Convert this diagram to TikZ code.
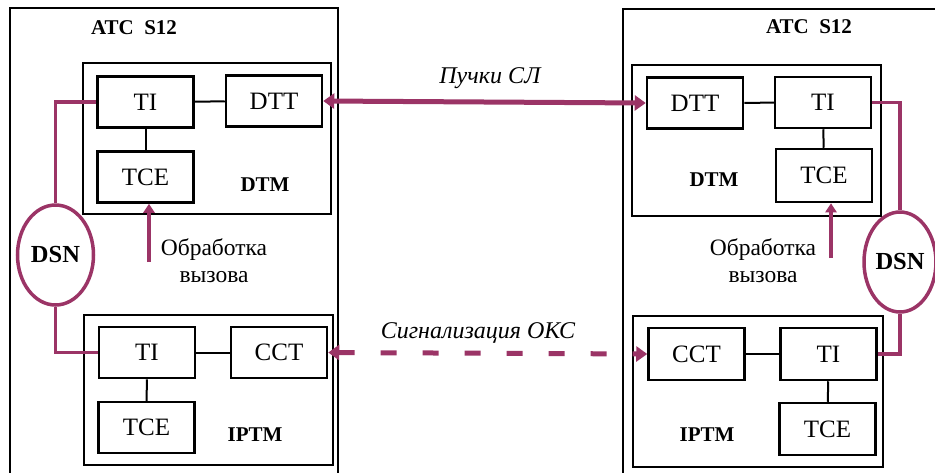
\documentclass[tikz,border=0pt]{standalone}
\usepackage{fontspec}
\setmainfont{Liberation Serif}
\usetikzlibrary{arrows.meta,shapes.geometric}
\definecolor{plum}{RGB}{155,52,102}
\tikzset{
  unit/.style={draw=black,line width=2.5pt,minimum width=96pt,minimum height=51pt,inner sep=0pt,
    font=\fontsize{25}{27}\selectfont},
  module/.style={draw=black,line width=2.5pt,inner sep=0pt},
  outer/.style={draw=black,line width=2pt},
  link/.style={draw=black,line width=2pt},
  purp/.style={draw=plum,line width=3.5pt},
  dsn/.style={ellipse,draw=plum,line width=3.5pt,inner sep=0pt,font=\bfseries\fontsize{24.5}{26}\selectfont},
  boldlbl/.style={font=\bfseries\fontsize{21}{23}\selectfont},
  note/.style={font=\fontsize{23.5}{27}\selectfont,align=center},
  itnote/.style={font=\itshape\fontsize{24}{26}\selectfont},
  bigarrow/.style={draw=plum,line width=5pt,{Triangle[length=11pt,width=15pt]}-{Triangle[length=11pt,width=15pt]}},
  uparrow/.style={draw=plum,line width=3.5pt,-{Triangle[length=9pt,width=11pt]}}
}
\begin{document}
\begin{tikzpicture}[x=1pt,y=-1pt]
\useasboundingbox (0,0) rectangle (935,472);
% outer exchange frames
\draw[outer] (10,474) -- (10,8) -- (338,8) -- (338,474);
\draw[outer] (623,474) -- (623,9) -- (937,9);
\node[boldlbl] (atc1) at (134,28) {ATC\ \ S12};
\node[boldlbl] (atc2) at (809,27) {ATC\ \ S12};
% left DTM
\node[module,minimum width=248pt,minimum height=151pt] (dtm1) at (207,138.5) {};
\node[unit] (ti1) at (145.5,102) {TI};
\node[unit] (dtt1) at (274,101) {DTT};
\node[unit] (tce1) at (145.5,177) {TCE};
\node[boldlbl] (dtml1) at (265,185) {DTM};
\draw[link] (ti1) -- (dtt1);
\draw[link] (ti1) -- (tce1);
% left IPTM
\node[module,minimum width=249pt,minimum height=150pt] (iptm1) at (208.5,390) {};
\node[unit] (ti2) at (147,352.5) {TI};
\node[unit] (cct1) at (279,352.5) {CCT};
\node[unit] (tce2) at (146.5,427.5) {TCE};
\node[boldlbl] (iptml1) at (255,435) {IPTM};
\draw[link] (ti2) -- (cct1);
\draw[link] (ti2) -- (tce2);
% left DSN
\node[dsn,minimum width=76pt,minimum height=100pt] (dsn1) at (55.5,255) {DSN};
\draw[purp] (ti1.west) -| (dsn1.north);
\draw[purp] (dsn1.south) |- (ti2.west);
% left call processing
\coordinate (a1) at (149,262);
\draw[uparrow] (a1) -- (a1 |- tce1.south);
\node[note] (cp1) at (214,261) {Обработка\\вызова};
% right DTM
\node[module,minimum width=249pt,minimum height=151pt] (dtm2) at (756.5,140.5) {};
\node[unit] (dtt2) at (695,103) {DTT};
\node[unit] (ti3) at (823,102.5) {TI};
\node[unit,minimum height=53pt] (tce3) at (824,175.5) {TCE};
\node[boldlbl] (dtml2) at (714,180) {DTM};
\draw[link] (dtt2) -- (ti3);
\draw[link] (ti3) -- (tce3);
% right IPTM
\node[module,minimum width=250pt,minimum height=151pt] (iptm2) at (758,391.5) {};
\node[unit,minimum height=52pt] (cct2) at (696.5,354) {CCT};
\node[unit,minimum height=52pt] (ti4) at (828.5,354) {TI};
\node[unit,minimum height=52pt] (tce4) at (827.5,429) {TCE};
\node[boldlbl] (iptml2) at (707,435) {IPTM};
\draw[link] (cct2) -- (ti4);
\draw[link] (ti4) -- (tce4);
% right DSN
\node[dsn,minimum width=72pt,minimum height=100pt] (dsn2) at (900,262) {DSN};
\draw[purp] (ti3.east) -| (dsn2.north);
\draw[purp] (dsn2.south) |- (ti4.east);
% right call processing
\coordinate (a2) at (831,258);
\draw[uparrow] (a2) -- (a2 |- tce3.south);
\node[note] (cp2) at (763,261) {Обработка\\вызова};
% inter-exchange links
\draw[bigarrow] (dtt1.east) -- (dtt2.west);
\node[itnote] (trunks) at (490,78) {Пучки СЛ};
\draw[bigarrow,dash pattern=on 16pt off 26pt] (cct1.east) -- (cct2.west);
\node[itnote] (ccs) at (478,333) {Сигнализация ОКС};
\end{tikzpicture}
\end{document}
